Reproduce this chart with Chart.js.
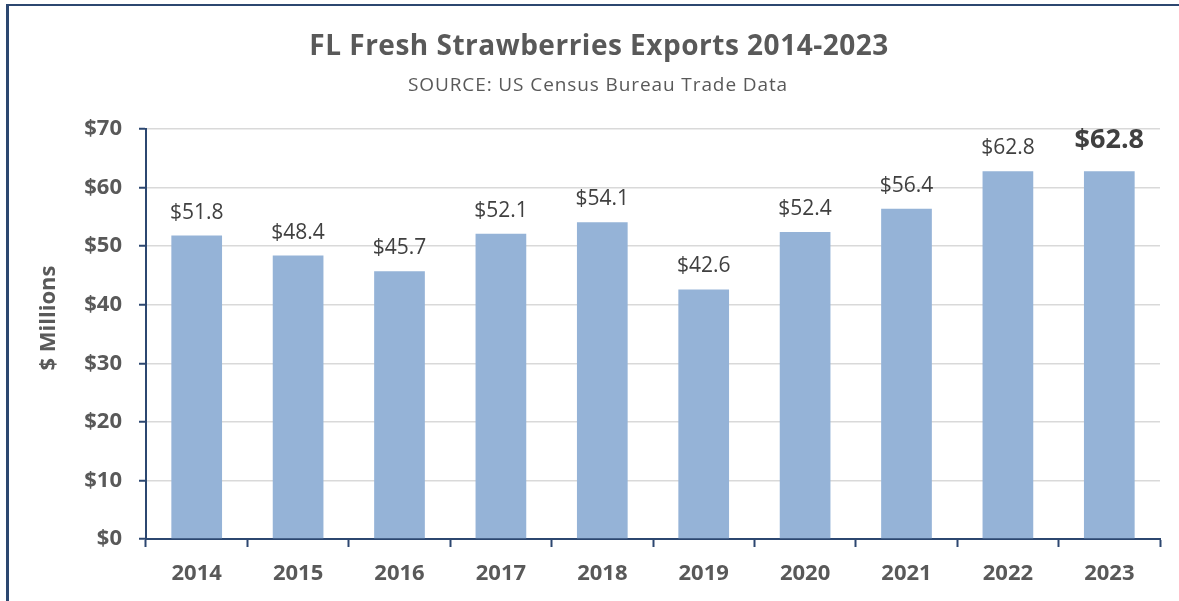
<!DOCTYPE html>
<html><head><meta charset="utf-8">
<script src="https://cdn.jsdelivr.net/npm/chart.js@4.4.0/dist/chart.umd.min.js"></script>
<style>
html,body{margin:0;padding:0;background:#fff;}
#wrap{position:relative;width:1179px;height:601px;overflow:hidden;}
#frame{position:absolute;left:6px;top:4px;width:1300px;height:700px;border-left:3px solid #2C4770;border-top:2px solid #2C4770;}
canvas{position:absolute;left:0;top:0;}
</style></head><body>
<div id="wrap"><div id="frame"></div><canvas id="c" width="1179" height="601"></canvas></div>
<script>
const categories = ['2014','2015','2016','2017','2018','2019','2020','2021','2022','2023'];
const exportValues = [51.8, 48.4, 45.7, 52.1, 54.1, 42.6, 52.4, 56.4, 62.8, 62.8];
const highlightIndex = 9;
const yMin = 0, yMax = 70, yStep = 10;
const chartTitle = 'FL Fresh Strawberries Exports 2014-2023';
const chartSubtitle = 'SOURCE: US Census Bureau Trade Data';
const yAxisTitle = '$ Millions';

const FONT = "'Open Sans', sans-serif";
const AXIS = '#2C4770';

const textPlugin = {
  id: 'texts',
  afterDatasetsDraw(chart) {
    const ctx = chart.ctx;
    const meta = chart.getDatasetMeta(0);
    ctx.save();
    ctx.textAlign = 'center';
    ctx.textBaseline = 'alphabetic';
    meta.data.forEach((bar, i) => {
      const v = exportValues[i];
      const label = '$' + v.toFixed(1);
      ctx.fillStyle = '#404040';
      if (i === highlightIndex) {
        ctx.font = "bold 27px " + FONT;
        ctx.fillText(label, bar.x, bar.y - 23);
      } else {
        ctx.font = "21px " + FONT;
        ctx.fillText(label, bar.x, bar.y - 17);
      }
    });
    ctx.restore();
  },
  afterDraw(chart) {
    const ctx = chart.ctx;
    ctx.save();
    ctx.textAlign = 'center';
    ctx.textBaseline = 'alphabetic';
    ctx.fillStyle = '#595959';
    ctx.font = "bold 28px " + FONT;
    if ('letterSpacing' in ctx) ctx.letterSpacing = '0.5px';
    ctx.fillText(chartTitle, 599, 55);
    ctx.font = "19px " + FONT;
    if ('letterSpacing' in ctx) ctx.letterSpacing = '0.9px';
    ctx.fillText(chartSubtitle, 598, 91);
    if ('letterSpacing' in ctx) ctx.letterSpacing = '0px';
    ctx.textBaseline = 'middle';
    ctx.translate(49, 318);
    ctx.rotate(-Math.PI / 2);
    ctx.font = "bold 22px " + FONT;
    ctx.fillText(yAxisTitle, 0, 0);
    ctx.restore();
  }
};

new Chart(document.getElementById('c'), {
  type: 'bar',
  data: {
    labels: categories,
    datasets: [{
      data: exportValues,
      backgroundColor: '#95B3D7',
      borderWidth: 0,
      barPercentage: 0.5,
      categoryPercentage: 1.0
    }]
  },
  options: {
    responsive: false,
    animation: false,
    devicePixelRatio: 1,
    layout: { padding: { left: 0, top: 129, right: 19, bottom: 0 } },
    plugins: { legend: { display: false }, tooltip: { enabled: false } },
    scales: {
      x: {
        offset: true,
        grid: { display: true, drawOnChartArea: false, drawTicks: true, tickLength: 8, tickColor: AXIS, tickWidth: 2, offset: true },
        border: { display: true, color: AXIS, width: 2 },
        ticks: { color: '#595959', font: { family: FONT, size: 22, weight: 'bold' }, padding: 14, maxRotation: 0 },
        afterFit(scale) { scale.height = 62; }
      },
      y: {
        min: yMin, max: yMax,
        ticks: { stepSize: yStep, color: '#595959', font: { family: FONT, size: 22, weight: 'bold' }, padding: 17,
          callback: (v) => '$' + v },
        grid: { color: '#D9D9D9', lineWidth: 1.5, tickLength: 7, tickColor: AXIS, tickWidth: 2 },
        border: { display: true, color: AXIS, width: 2 },
        afterFit(scale) { scale.width = 146; }
      }
    }
  },
  plugins: [textPlugin]
});
</script>
</body></html>
